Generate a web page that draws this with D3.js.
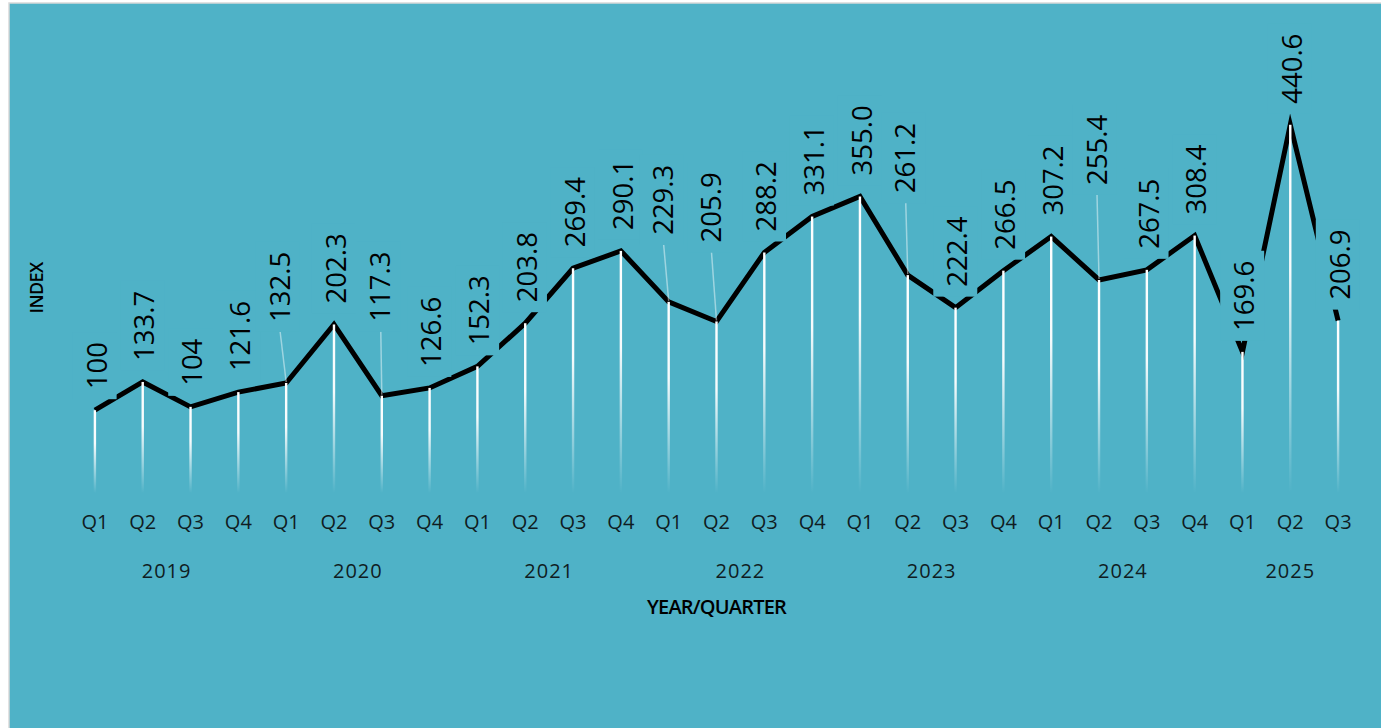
<!DOCTYPE html>
<html>
<head>
<meta charset="utf-8">
<script src="https://cdn.jsdelivr.net/npm/d3@7"></script>
<style>
  html, body { margin: 0; padding: 0; background: #fff; }
  svg { display: block; }
</style>
</head>
<body>
<div class="graph"></div>
<script>
// index per quarter, 2019 Q1 = 100
const quarters = ["Q1","Q2","Q3","Q4","Q1","Q2","Q3","Q4","Q1","Q2","Q3","Q4","Q1","Q2","Q3","Q4",
  "Q1","Q2","Q3","Q4","Q1","Q2","Q3","Q4","Q1","Q2","Q3"];
const years = ["2019","2020","2021","2022","2023","2024","2025"];
const quartersPerYear = [4,4,4,4,4,4,3];
const values = [100,133.7,104,121.6,132.5,202.3,117.3,126.6,152.3,203.8,269.4,290.1,229.3,205.9,
  288.2,331.1,355.0,261.2,222.4,266.5,307.2,255.4,267.5,308.4,169.6,440.6,206.9];
const valueLabels = ["100","133.7","104","121.6","132.5","202.3","117.3","126.6","152.3","203.8",
  "269.4","290.1","229.3","205.9","288.2","331.1","355.0","261.2","222.4","266.5","307.2","255.4",
  "267.5","308.4","169.6","440.6","206.9"];

const W = 1381, H = 728;
const bg = "#4fb2c7";

const svg = d3.select(".graph").append("svg")
  .attr("width", W).attr("height", H);

// chart area with thin grey border on top/left
svg.append("rect").attr("x", 9).attr("y", 3).attr("width", W).attr("height", H)
  .attr("fill", bg).attr("stroke", "#d9d9d9").attr("stroke-width", 1.5);

const x = d3.scaleBand().domain(d3.range(values.length)).range([71, 1362]);
const y = d3.scaleLinear().domain([0, 500]).range([494, 75]);
const cx = i => x(i) + x.bandwidth() / 2;

// gradient for the drop lines (white -> transparent)
const defs = svg.append("defs");
const grad = defs.append("linearGradient").attr("id", "drop")
  .attr("x1", 0).attr("y1", 0).attr("x2", 0).attr("y2", 1);
grad.append("stop").attr("offset", "0%").attr("stop-color", "#fff").attr("stop-opacity", 1);
grad.append("stop").attr("offset", "40%").attr("stop-color", "#fff").attr("stop-opacity", 0.95);
grad.append("stop").attr("offset", "100%").attr("stop-color", "#fff").attr("stop-opacity", 0);

// main line
const line = d3.line().x((d, i) => cx(i)).y(d => y(d));
svg.append("path").datum(values)
  .attr("d", line)
  .attr("fill", "none")
  .attr("stroke", "#000")
  .attr("stroke-width", 5)
  .attr("stroke-linejoin", "miter")
  .attr("stroke-miterlimit", 10);

// labels that were dragged up in the original (get a leader line)
// index: [dx, extra raise]
const moved = {4: [-6, 40], 6: [-1, 53], 12: [-5, 46], 13: [-5, 58], 17: [-2, 61], 21: [-2, 74]};

const labelLayer = svg.append("g");
const lbl = values.map((v, i) => {
  const m = moved[i] || [2, 0];
  return {i: i, lx: cx(i) + m[0], start: y(v) - 21 - m[1], isMoved: !!moved[i]};
});

const lg = labelLayer.selectAll("g.lbl").data(lbl).enter().append("g")
  .attr("class", "lbl")
  .attr("transform", d => "translate(" + (d.lx + 9.7) + "," + d.start + ") rotate(-90)");

const boxes = lg.append("rect").attr("fill", bg);
const texts = lg.append("text")
  .attr("x", 0).attr("y", 0)
  .attr("font-family", "'Open Sans', sans-serif")
  .attr("font-size", 27.5)
  .attr("fill", "#000")
  .text(d => valueLabels[d.i]);

texts.each(function(d) { d.len = this.getComputedTextLength(); });
boxes.attr("x", -10).attr("y", -34)
  .attr("width", d => d.len + 20).attr("height", 44);

// drop lines
svg.append("g").selectAll("rect").data(values).enter().append("rect")
  .attr("x", (d, i) => cx(i) - 1.2)
  .attr("y", d => y(d))
  .attr("width", 2.4)
  .attr("height", d => y(0) - 1 - y(d))
  .attr("fill", "url(#drop)");

// leader lines
svg.append("g").selectAll("line").data(lbl.filter(d => d.isMoved)).enter().append("line")
  .attr("x1", d => cx(d.i)).attr("y1", d => y(values[d.i]) - 1)
  .attr("x2", d => d.lx).attr("y2", d => d.start + 10)
  .attr("stroke", "#fff").attr("stroke-opacity", 0.45).attr("stroke-width", 1.5);

labelLayer.raise();

// quarter axis
const ax = svg.append("g").attr("transform", "translate(0," + y(0) + ")")
  .call(d3.axisBottom(x).tickSize(0).tickPadding(21).tickFormat(i => quarters[i]));
ax.select(".domain").remove();
ax.selectAll("text")
  .attr("font-family", "'Open Sans', sans-serif")
  .attr("font-size", 20)
  .attr("fill", "#0f1c22");

// year labels centred under their quarters
let start = 0;
const yearPos = years.map((yr, k) => {
  const a = start, b = start + quartersPerYear[k] - 1;
  start += quartersPerYear[k];
  return {yr: yr, mid: (cx(a) + cx(b)) / 2};
});
svg.append("g").selectAll("text").data(yearPos).enter().append("text")
  .attr("x", d => d.mid).attr("y", 578)
  .attr("text-anchor", "middle")
  .attr("font-family", "'Open Sans', sans-serif")
  .attr("font-size", 20)
  .attr("letter-spacing", 1)
  .attr("fill", "#0f1c22")
  .text(d => d.yr);

// axis titles
svg.append("text")
  .attr("x", (cx(0) + cx(values.length - 1)) / 2).attr("y", 614)
  .attr("text-anchor", "middle")
  .attr("font-family", "'Open Sans', sans-serif")
  .attr("font-weight", 600)
  .attr("font-size", 20)
  .attr("letter-spacing", -0.8)
  .attr("fill", "#000")
  .text("YEAR/QUARTER");

svg.append("text")
  .attr("transform", "translate(43,288) rotate(-90)")
  .attr("text-anchor", "middle")
  .attr("font-family", "'Open Sans', sans-serif")
  .attr("font-weight", 600)
  .attr("font-size", 18)
  .attr("letter-spacing", -0.6)
  .attr("fill", "#000")
  .text("INDEX");
</script>
</body>
</html>
